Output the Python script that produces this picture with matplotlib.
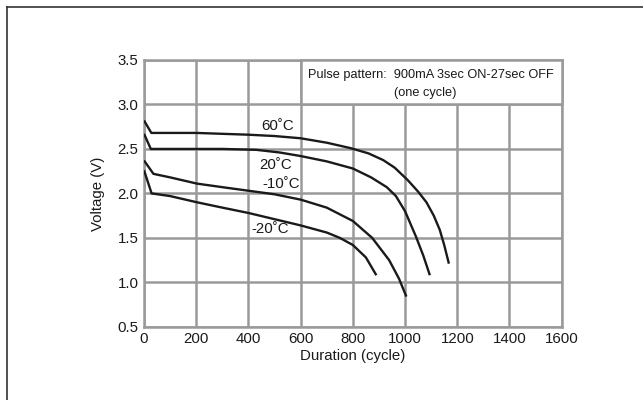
import matplotlib.pyplot as plt
from matplotlib.patches import Rectangle
from matplotlib.lines import Line2D

plt.rcParams['font.family'] = ['Liberation Sans', 'DejaVu Sans']

# discharge curves (cycle, voltage)
x_60 = [0, 28, 100, 200, 300, 400, 500, 600, 700, 790, 860, 916, 960, 1010,
        1050, 1082, 1110, 1133, 1150, 1168]
v_60 = [2.82, 2.68, 2.68, 2.68, 2.67, 2.66, 2.645, 2.62, 2.57, 2.51, 2.45,
        2.375, 2.29, 2.15, 2.02, 1.90, 1.75, 1.59, 1.42, 1.21]

x_20 = [0, 26, 100, 200, 300, 430, 520, 600, 700, 800, 870, 930, 965, 1000,
        1041, 1070, 1095]
v_20 = [2.67, 2.50, 2.50, 2.50, 2.50, 2.49, 2.46, 2.42, 2.36, 2.28, 2.18,
        2.07, 1.97, 1.80, 1.52, 1.30, 1.08]

x_m10 = [0, 36, 100, 203, 300, 400, 500, 600, 700, 800, 874, 939, 977, 1005]
v_m10 = [2.37, 2.22, 2.18, 2.11, 2.07, 2.03, 1.99, 1.93, 1.84, 1.69, 1.50,
         1.25, 1.04, 0.84]

x_m20 = [0, 29, 100, 203, 300, 400, 500, 600, 700, 750, 800, 850, 890]
v_m20 = [2.26, 2.00, 1.97, 1.90, 1.84, 1.78, 1.71, 1.64, 1.56, 1.50, 1.42,
         1.28, 1.08]

curve_labels = ['60˚C', '20˚C', '-10˚C', '-20˚C']
label_pos = [(448, 2.76), (443, 2.32), (455, 2.11), (412, 1.60)]

xticks = [0, 200, 400, 600, 800, 1000, 1200, 1400, 1600]
yticks = [0.5, 1.0, 1.5, 2.0, 2.5, 3.0, 3.5]

grid_col = '#9a9a9a'
ink = '#1a1a1a'
fs = 10.8

fig = plt.figure(figsize=(6.43, 4.0), dpi=100)
ax = fig.add_axes([0.224, 0.183, 0.6495, 0.667])

for xs, vs in [(x_60, v_60), (x_20, v_20), (x_m10, v_m10), (x_m20, v_m20)]:
    ax.plot(xs, vs, color=ink, lw=1.7, zorder=4,
            solid_joinstyle='round', solid_capstyle='butt')

for lab, (lx, ly) in zip(curve_labels, label_pos):
    ax.text(lx, ly, lab, fontsize=fs, va='center', ha='left', color=ink, zorder=5)

ax.set_xlim(0, 1600)
ax.set_ylim(0.5, 3.5)
ax.set_xticks(xticks)
ax.set_yticks(yticks)
ax.set_yticklabels(['%.1f' % v for v in yticks])
ax.tick_params(length=0, labelsize=fs, pad=4, colors=ink)
ax.grid(True, color=grid_col, lw=1.8, zorder=1)
ax.set_axisbelow(True)
for s in ax.spines.values():
    s.set_color(grid_col)
    s.set_linewidth(1.8)

# legend box with pulse pattern
ax.add_patch(Rectangle((600, 3.0), 1000, 0.5, facecolor='white',
                       edgecolor=grid_col, lw=1.8, zorder=3, clip_on=False))
ax.text(629, 3.33, 'Pulse pattern:  900mA 3sec ON-27sec OFF', fontsize=9.2,
        va='center', ha='left', color=ink, zorder=5)
ax.text(958, 3.125, '(one cycle)', fontsize=9.2, va='center', ha='left',
        color=ink, zorder=5)

ax.set_xlabel('Duration (cycle)', fontsize=fs, labelpad=2, color=ink)
ax.set_ylabel('Voltage (V)', fontsize=fs, labelpad=9, color=ink)

# outer frame (top and left edges only visible)
fig.add_artist(Line2D([6.5 / 643, 1], [1 - 6.5 / 400, 1 - 6.5 / 400],
                      color='#333333', lw=1.2, transform=fig.transFigure))
fig.add_artist(Line2D([6.5 / 643, 6.5 / 643], [0, 1 - 6.5 / 400],
                      color='#333333', lw=1.2, transform=fig.transFigure))

fig.savefig('out.png', dpi=100)
